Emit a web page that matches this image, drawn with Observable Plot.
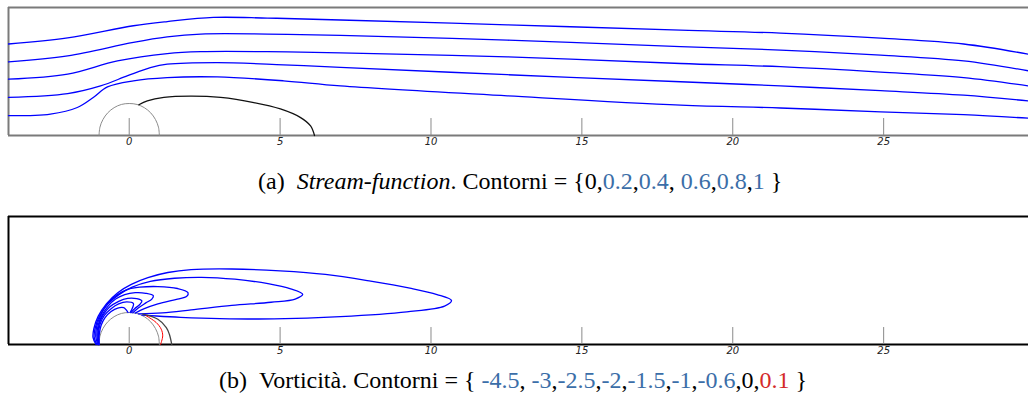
<!DOCTYPE html>
<html><head><meta charset="utf-8">
<script src="https://cdn.jsdelivr.net/npm/d3@7"></script>
<script src="https://cdn.jsdelivr.net/npm/@observablehq/plot@0.6"></script>
<style>
body{margin:0;background:#fff;}
#wrap{position:relative;width:1028px;height:396px;overflow:hidden;background:#fff;}
#wrap svg{position:absolute;left:0;}
.cap{position:absolute;font-family:"Liberation Serif","Times New Roman",serif;font-size:24px;white-space:nowrap;color:#000;line-height:1;}
.b{color:#3b6ea8}.r{color:#d42a2a}
</style></head><body><div id="wrap"></div>
<script>
// ---- axis ----
const xTicks = [0, 5, 10, 15, 20, 25];
const xDomain = [-4, 29.8];
const yDomain = [0, 4];

// ---- cylinder (semicircle radius 1) ----
const cylinder = [[-1,0],[-0.97,0.26],[-0.87,0.5],[-0.71,0.71],[-0.5,0.87],[-0.26,0.97],[0,1],[0.26,0.97],[0.5,0.87],[0.71,0.71],[0.87,0.5],[0.97,0.26],[1,0]];

// ---- (a) stream-function contours ----
const psi0 = [[0.32,0.96],[0.6,1.08],[1.15,1.19],[2.03,1.23],[3.03,1.19],[4.13,1.03],[5.01,0.83],[5.68,0.56],[6.01,0.30],[6.14,0.0]];
const psi02 = [[-4,0.62],[-2.61,0.67],[-1.72,0.875],[-1.19,1.19],[-0.72,1.52],[0.14,1.71],[1.26,1.81],[2.92,1.83],[5.11,1.71],[7.0,1.55],[12.53,1.24],[18.27,0.95],[21.58,0.86],[24.9,0.74],[27.65,0.65],[29.8,0.54]];
const psi04 = [[-4,1.19],[-2.04,1.31],[-0.95,1.55],[-0.05,1.87],[0.7,2.12],[1.26,2.23],[2.92,2.28],[5.11,2.21],[7.0,2.13],[12.53,1.9],[18.27,1.68],[21.58,1.55],[24.9,1.40],[27.65,1.26],[29.8,1.08]];
const psi06 = [[-4,1.76],[-2.04,1.92],[-0.39,2.33],[1.26,2.56],[2.37,2.62],[4.58,2.62],[7.0,2.58],[12.53,2.46],[18.27,2.25],[21.58,2.15],[24.9,1.98],[27.65,1.81],[29.8,1.55]];
const psi08 = [[-4,2.30],[-2.04,2.49],[0.14,2.91],[1.26,3.08],[2.37,3.17],[4.58,3.17],[7.0,3.13],[12.53,2.98],[18.27,2.78],[21.58,2.67],[24.9,2.51],[27.65,2.33],[29.8,2.02]];
const psi10 = [[-4,2.86],[-2.04,3.05],[0.14,3.43],[1.26,3.56],[2.79,3.69],[4.58,3.67],[7.0,3.61],[12.53,3.46],[18.27,3.29],[21.58,3.2],[24.9,3.04],[27.65,2.86],[29.8,2.54]];

// ---- (b) vorticity contours ----
const w45 = [[-1.0,0.0],[-0.99,0.33],[-0.93,0.6],[-0.8,0.84],[-0.6,1.03],[-0.38,1.14],[-0.18,1.15],[-0.1,1.08],[-0.04,1.0]];
const w30 = [[-1.0,0.0],[-1.02,0.32],[-0.97,0.62],[-0.83,0.9],[-0.6,1.12],[-0.35,1.27],[-0.08,1.33],[0.14,1.28],[0.12,1.17],[0.03,1.0]];
const w25 = [[-1.01,0.0],[-1.04,0.3],[-1.0,0.62],[-0.88,0.9],[-0.65,1.17],[-0.35,1.35],[-0.05,1.44],[0.25,1.43],[0.42,1.36],[0.35,1.25],[0.18,1.12],[0.06,1.0]];
const w20 = [[-1.02,0.0],[-1.07,0.28],[-1.03,0.6],[-0.9,0.92],[-0.7,1.2],[-0.45,1.42],[-0.15,1.56],[0.2,1.62],[0.55,1.6],[0.8,1.52],[0.75,1.42],[0.55,1.3],[0.3,1.14],[0.12,0.99]];
const w15 = [[-1.04,0.0],[-1.11,0.25],[-1.08,0.55],[-0.95,0.9],[-0.7,1.3],[-0.4,1.55],[-0.05,1.72],[0.35,1.79],[0.95,1.81],[1.6,1.75],[1.95,1.62],[1.9,1.5],[1.6,1.42],[0.95,1.27],[0.5,1.12],[0.2,0.98]];
const w10 = [[-1.07,0.0],[-1.16,0.22],[-1.13,0.5],[-0.99,0.88],[-0.71,1.26],[-0.35,1.55],[0.1,1.79],[0.7,1.97],[1.5,2.07],[2.4,2.10],[3.5,2.04],[4.6,1.9],[5.35,1.74],[5.75,1.57],[5.5,1.42],[4.7,1.32],[3.4,1.22],[2.05,1.08],[1.1,0.99],[0.3,0.96]];
const w06 = [[-1.1,0.0],[-1.2,0.22],[-1.17,0.5],[-1.03,0.88],[-0.75,1.28],[-0.38,1.62],[0.07,1.88],[0.62,2.09],[1.28,2.25],[2.05,2.34],[3.4,2.36],[5.0,2.3],[6.5,2.19],[8.0,1.98],[9.3,1.76],[10.2,1.56],[10.68,1.37],[10.45,1.2],[9.2,1.02],[7.0,0.87],[4.8,0.8],[3.0,0.81],[1.7,0.85],[0.9,0.89],[0.42,0.92]];
const w00 = [[0.45,0.95],[0.95,0.79],[1.23,0.53],[1.33,0.32],[1.41,0.0]];
const w01 = [[0.56,0.9],[0.89,0.69],[1.06,0.48],[1.11,0.27],[1.04,0.0]];

function toRows(list) {
  const rows = [];
  list.forEach((pts, i) => pts.forEach(([x, y]) => rows.push({id: i, x, y})));
  return rows;
}

function panel({blue, black, red, frame, blackColor}) {
  const marks = [
    Plot.ruleY(yDomain, {stroke: frame, strokeWidth: 2}),
    Plot.ruleX([xDomain[0]], {stroke: frame, strokeWidth: 2}),
    Plot.ruleX(xTicks, {y1: 0, y2: 0.53, stroke: "#8a8a8a", strokeWidth: 1}),
    Plot.text(xTicks, {x: d => d, y: 0, dy: 6, text: d => String(d), fontStyle: "italic", fontSize: 10, fontFamily: "DejaVu Sans", fill: "#222"}),
    Plot.line(cylinder, {x: d => d[0], y: d => d[1], stroke: "#8c8c8c", strokeWidth: 1, curve: "catmull-rom"}),
    Plot.line(toRows(blue), {x: "x", y: "y", z: "id", stroke: "#0000ff", strokeWidth: 1.3, curve: "catmull-rom"}),
    Plot.line(toRows(black), {x: "x", y: "y", z: "id", stroke: blackColor, strokeWidth: 1.3, curve: "catmull-rom"})
  ];
  if (red) marks.push(Plot.line(toRows(red), {x: "x", y: "y", z: "id", stroke: "#ff0000", strokeWidth: 1, curve: "catmull-rom"}));
  return Plot.plot({
    width: 1028, height: 150,
    marginLeft: 8, marginRight: 0, marginTop: 7, marginBottom: 15,
    x: {domain: xDomain, axis: null},
    y: {domain: yDomain, axis: null},
    style: {background: "transparent", overflow: "visible"},
    marks
  });
}

const wrap = document.getElementById("wrap");
const a = panel({blue: [psi02, psi04, psi06, psi08, psi10], black: [psi0], frame: "#7a7a7a", blackColor: "#111"});
a.style.top = "0px";
wrap.appendChild(a);
const b = panel({blue: [w45, w30, w25, w20, w15, w10, w06], black: [w00], red: [w01], frame: "#000", blackColor: "#444"});
b.style.top = "209px";
wrap.appendChild(b);

const capA = document.createElement("div");
capA.className = "cap";
capA.style.left = "258px"; capA.style.top = "169px";
capA.innerHTML = '(a)&nbsp;&nbsp;<i>Stream-function</i>. Contorni = {0,<span class="b">0.2</span>,<span class="b">0.4</span>, <span class="b">0.6</span>,<span class="b">0.8</span>,<span class="b">1</span> }';
wrap.appendChild(capA);
const capB = document.createElement("div");
capB.className = "cap";
capB.style.left = "219px"; capB.style.top = "368px";
capB.innerHTML = '(b)&nbsp;&nbsp;Vorticità. Contorni = { <span class="b">-4.5</span>, <span class="b">-3</span>,<span class="b">-2.5</span>,<span class="b">-2</span>,<span class="b">-1.5</span>,<span class="b">-1</span>,<span class="b">-0.6</span>,0,<span class="r">0.1</span> }';
wrap.appendChild(capB);
</script></body></html>
